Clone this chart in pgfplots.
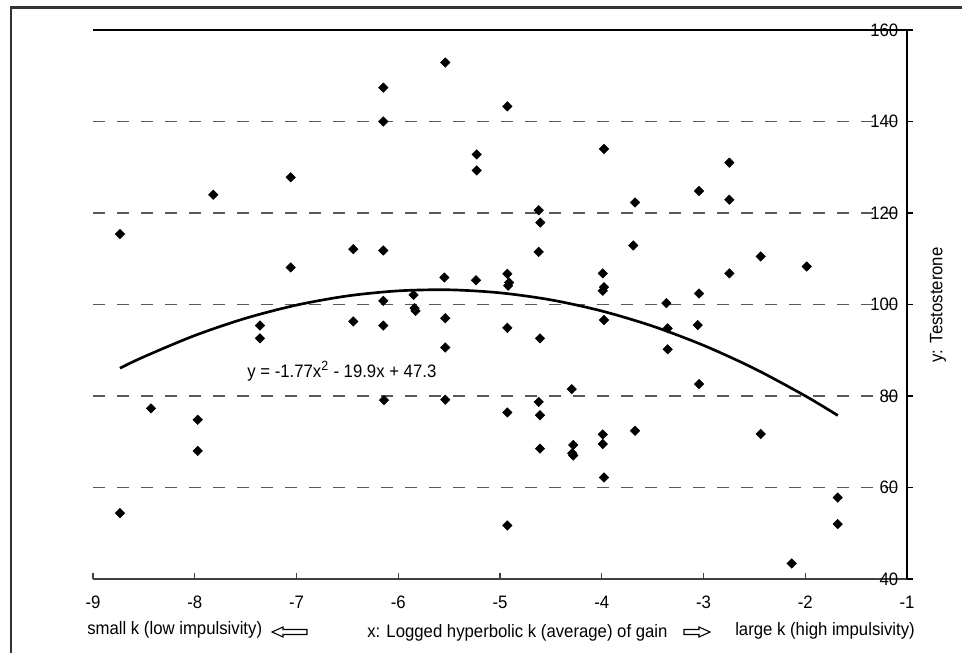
\documentclass[border=0pt]{standalone}
\usepackage{fontspec}
\setmainfont{Liberation Sans}[FakeStretch=0.93]
\usepackage{pgfplots}
\pgfplotsset{compat=1.18}
\begin{document}
\begin{tikzpicture}
\path[use as bounding box] (0,0) rectangle (721.5pt,489.75pt);
\begin{scope}[x=0.75pt,y=-0.75pt,yshift=489.75pt]
  \draw[black!80, line width=2pt] (10,7.5) -- (962,7.5);
  \draw[black!80, line width=2pt] (11,6.5) -- (11,653);
  \node[anchor=base west, inner sep=0pt, font=\fontsize{13.5}{16}\selectfont] at (87,634) {small k (low impulsivity)};
  \node[anchor=base west, inner sep=0pt, font=\fontsize{13.5}{16}\selectfont] at (367,637) {x: Logged hyperbolic k (average) of gain};
  \node[anchor=base west, inner sep=0pt, font=\fontsize{13.5}{16}\selectfont] at (735,635) {large k (high impulsivity)};
  \node[rotate=90, inner sep=0pt, font=\fontsize{13.5}{16}\selectfont] at (938,305) {y: Testosterone};
  \draw[black, line width=0.8pt] (272,632) -- (283,627) -- (283,629.5) -- (307,629.5) -- (307,634.5) -- (283,634.5) -- (283,637) -- cycle;
  \draw[black, line width=0.8pt] (710,632) -- (699,627) -- (699,629.5) -- (684,629.5) -- (684,634.5) -- (699,634.5) -- (699,637) -- cycle;
\end{scope}
\begin{axis}[at={(69.75pt,55.5pt)}, anchor=south west, scale only axis,
  width=610.5pt, height=411.75pt,
  xmin=-9, xmax=-1, ymin=40, ymax=160,
  axis x line*=bottom, axis y line*=right, axis line style={-},
  xtick pos=left, xticklabel pos=left, ytick pos=right, yticklabel pos=right,
  x axis line style={black!75, line width=1.3pt},
  y axis line style={black, line width=1.3pt},
  xtick={-9,-8,...,-1}, ytick={40,60,...,160},
  tick align=inside, major tick length=4.5pt,
  ytick style={xshift=4.5pt, black, line width=1pt},
  xtick style={black!75, line width=1pt},
  ymajorgrids,
  major grid style={black!65, line width=1.1pt, dash pattern=on 9pt off 9pt},
  tick label style={font=\fontsize{13.5}{16}\selectfont},
  /pgf/number format/assume math mode=true,
  yticklabel style={anchor=east, xshift=-3pt},
  xticklabel style={anchor=north, yshift=-9pt},
  clip=false]
\draw[black, line width=1.5pt] (axis cs:-9,160) -- (axis cs:-1,160);
\addplot[only marks, mark=square*, mark size=2.5pt, mark options={rotate=45, fill=black, draw=black}] table {
x y
-5.538 152.9
-6.147 147.4
-6.147 140.0
-5.229 132.8
-5.229 129.3
-7.057 127.8
-7.818 124.0
-8.735 115.4
-6.442 112.1
-6.147 111.8
-7.057 108.1
-5.547 105.9
-5.236 105.3
-5.850 102.1
-6.147 100.8
-5.840 99.2
-5.830 98.6
-6.442 96.3
-6.147 95.4
-7.359 95.4
-5.538 97.0
-7.359 92.6
-5.538 90.6
-8.430 77.3
-7.971 74.8
-7.971 68.0
-6.140 79.1
-5.538 79.2
-8.735 54.4
-4.928 143.3
-3.978 134.0
-2.746 131.0
-3.044 124.8
-2.746 122.9
-3.673 122.3
-4.620 120.6
-4.604 117.9
-3.690 112.9
-4.620 111.5
-2.438 110.5
-1.986 108.3
-4.928 106.7
-3.990 106.8
-2.746 106.8
-4.910 104.8
-4.920 104.1
-3.978 103.8
-3.990 103.0
-3.044 102.4
-3.365 100.3
-3.978 96.6
-3.057 95.5
-4.928 94.9
-3.352 94.8
-4.607 92.6
-3.352 90.2
-3.044 82.6
-4.295 81.5
-4.620 78.7
-4.928 76.4
-4.607 75.8
-3.673 72.4
-2.438 71.7
-3.990 71.6
-4.280 69.3
-3.990 69.5
-4.290 67.5
-4.280 67.0
-4.607 68.5
-3.978 62.2
-1.681 57.8
-4.928 51.7
-1.681 52.0
-2.133 43.4
};
\addplot[smooth, line width=2pt, black] coordinates {
(-8.735,86.08) (-8.5,88.57) (-8,93.22) (-7.5,96.99) (-7,99.87) (-6.5,101.87)
(-6,102.98) (-5.5,103.21) (-5,102.55) (-4.5,101.01) (-4,98.58) (-3.5,95.27)
(-3,91.07) (-2.5,85.99) (-2,80.02) (-1.68,75.74)
};
\node[anchor=base west, inner sep=0pt, font=\fontsize{13.5}{16}\selectfont] at (axis cs:-7.486,84.15) {y = -1.77x\textsuperscript{\fontsize{10}{12}\selectfont 2} - 19.9x + 47.3};
\end{axis}
\end{tikzpicture}
\end{document}
